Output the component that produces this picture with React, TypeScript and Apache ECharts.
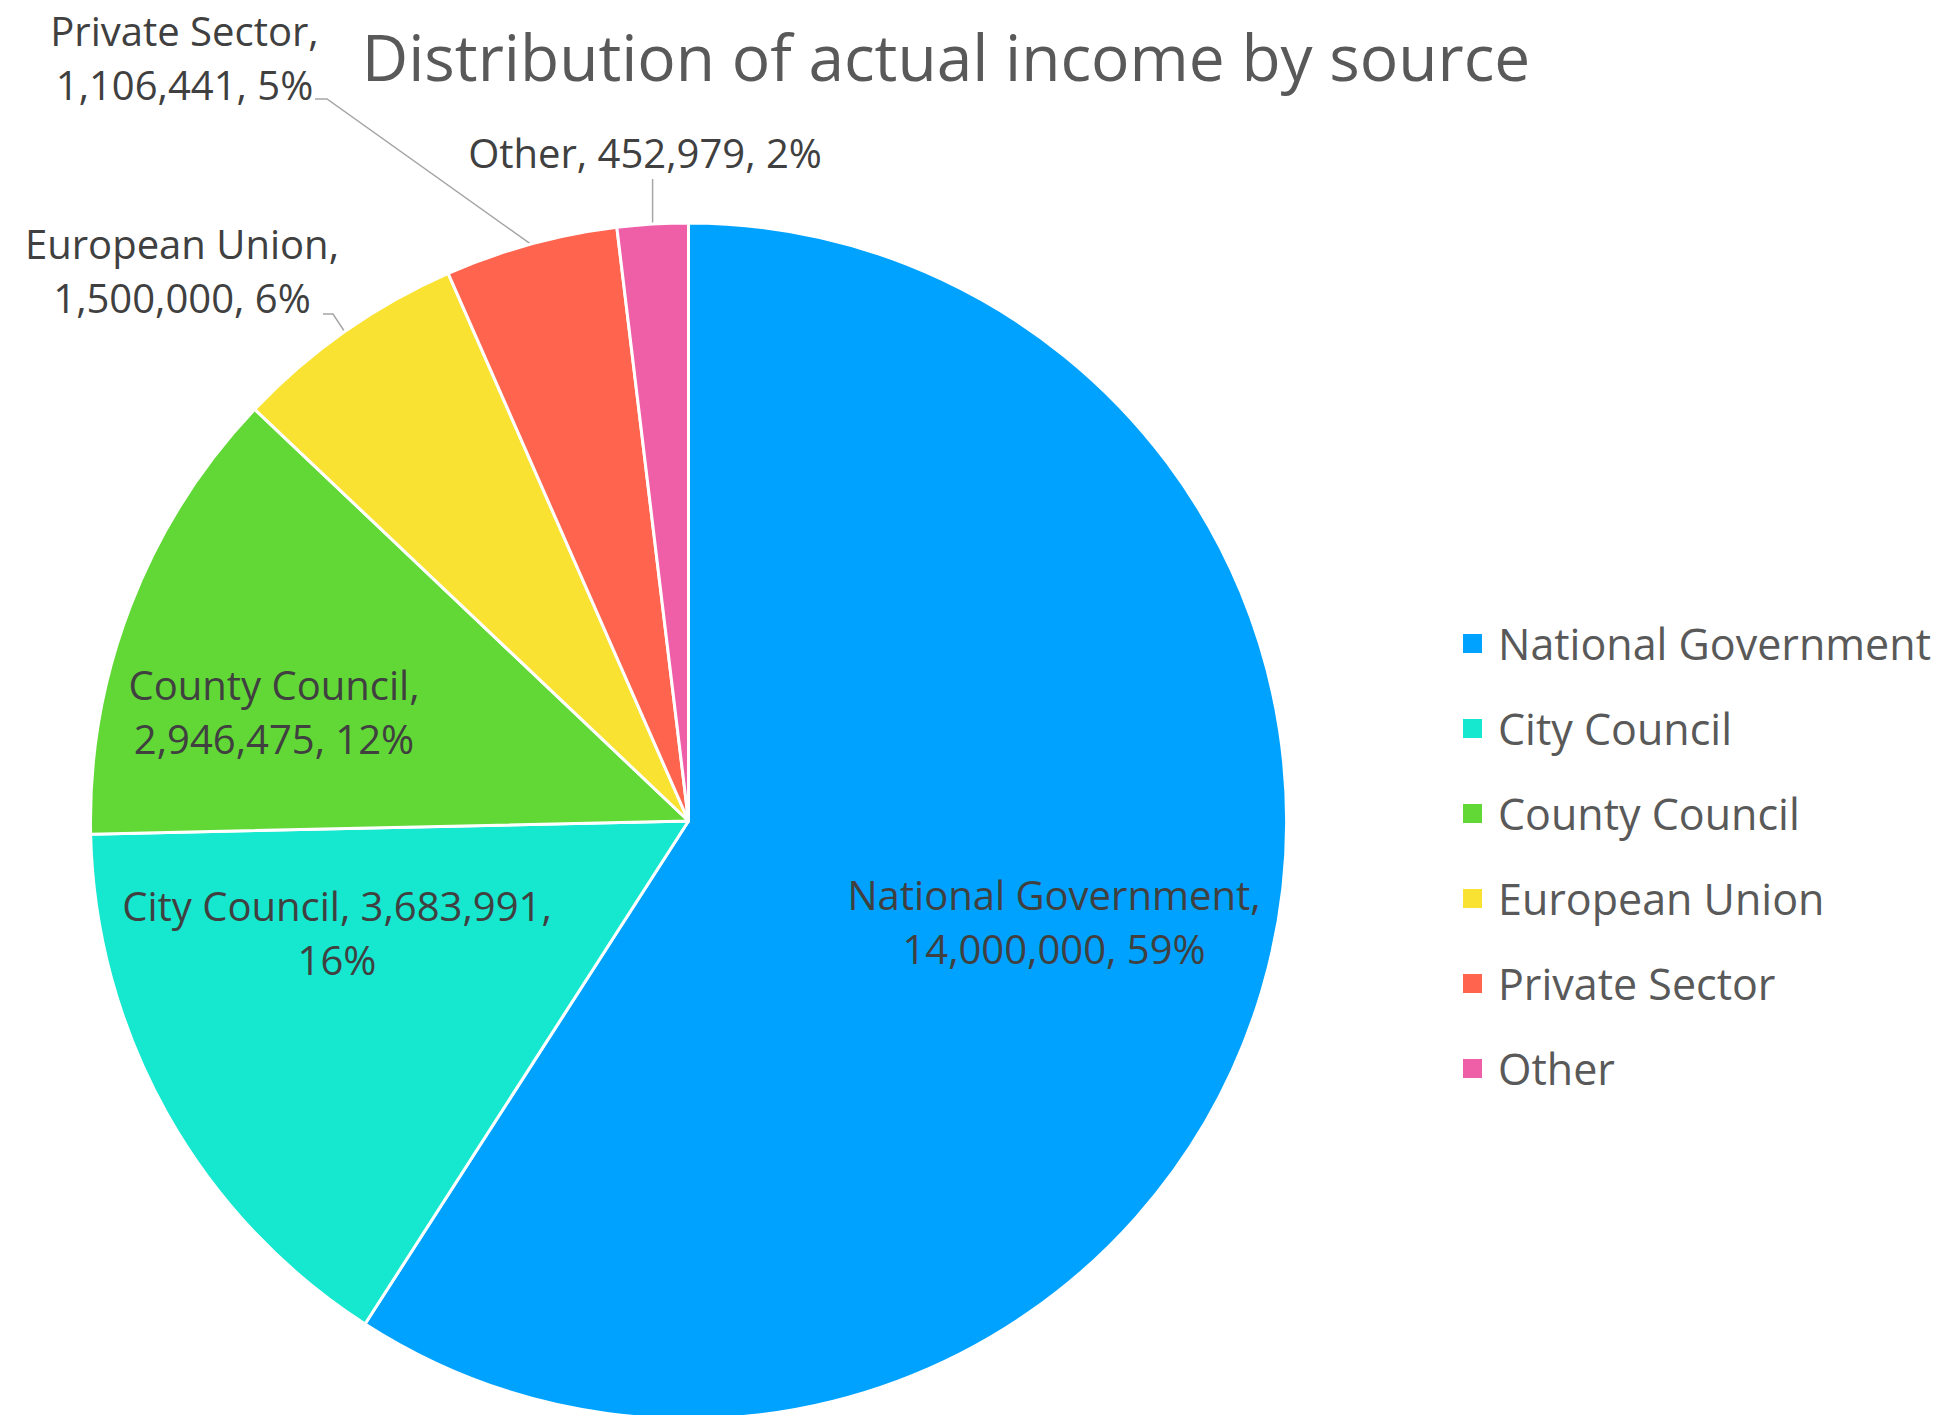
import React, { useEffect, useRef } from 'react';
import * as echarts from 'echarts';

const TITLE = 'Distribution of actual income by source';
const CATEGORIES = [
  'National Government',
  'City Council',
  'County Council',
  'European Union',
  'Private Sector',
  'Other',
];
const VALUES = [14000000, 3683991, 2946475, 1500000, 1106441, 452979];
const COLORS = ['#00A2FF', '#16E7CF', '#61D836', '#FAE232', '#FF644E', '#EF5FA7'];
// where each data label wraps onto a second line
const LABEL_BREAK = ['name', 'value', 'name', 'name', 'name', 'none'];

const FONT = "'Open Sans', 'Noto Sans', sans-serif";
const CENTER = [688.5, 821];
const RADIUS = 598;
// label centre, relative to the pie centre
const LABEL_OFFSET = [
  [365.5, 100],
  [-351.5, 111],
  [-414.5, -110],
  [-506.5, -551],
  [-504, -764],
  [-43.5, -669],
];
// leader bend / end points relative to the label centre
const LEADER: any[] = [
  null,
  null,
  null,
  [[151, 44], [141, 44]],
  [[142.5, 42], [130.5, 42]],
  'vertical',
];

const addCommas = (v: number) => String(v).replace(/\B(?=(\d{3})+(?!\d))/g, ',');

export default function App() {
  const ref = useRef<HTMLDivElement>(null);

  useEffect(() => {
    if (!ref.current) return;
    const chart = echarts.init(ref.current, undefined, { renderer: 'svg' });
    const option: any = {
      animation: false,
      backgroundColor: '#ffffff',
      color: COLORS,
      graphic: [
        {
          type: 'text',
          x: 946,
          y: 56,
          style: {
            text: TITLE,
            fill: '#595959',
            fontSize: 64,
            fontFamily: FONT,
            align: 'center',
            verticalAlign: 'middle',
          },
        },
      ],
      legend: {
        orient: 'vertical',
        left: 1461,
        top: 622,
        padding: 0,
        icon: 'rect',
        itemWidth: 21,
        itemHeight: 21,
        itemGap: 42,
        selectedMode: false,
        data: CATEGORIES,
        textStyle: {
          fontFamily: FONT,
          fontSize: 43,
          lineHeight: 43,
          color: '#595959',
          padding: [0, 0, 0, 10],
        },
      },
      series: [
        {
          type: 'pie',
          center: CENTER,
          radius: RADIUS,
          startAngle: 90,
          clockwise: true,
          avoidLabelOverlap: false,
          itemStyle: { borderColor: '#ffffff', borderWidth: 3 },
          label: {
            show: true,
            fontFamily: FONT,
            fontSize: 40,
            lineHeight: 54,
            color: '#404040',
            formatter: (p: any) => {
              const v = addCommas(p.value);
              const pc = Math.round(p.percent) + '%';
              const mode = LABEL_BREAK[p.dataIndex];
              if (mode === 'name') return `${p.name},\n${v}, ${pc}`;
              if (mode === 'value') return `${p.name}, ${v},\n${pc}`;
              return `${p.name}, ${v}, ${pc}`;
            },
          },
          labelLine: {
            show: true,
            length: 20,
            length2: 10,
            lineStyle: { color: '#A6A6A6', width: 1.5 },
          },
          labelLayout: (p: any) => {
            const i = p.dataIndex;
            const off = LABEL_OFFSET[i];
            const x = CENTER[0] + off[0];
            const y = CENTER[1] + off[1];
            const res: any = { x, y, align: 'center', verticalAlign: 'middle' };
            const pts = p.labelLinePoints;
            const lead = LEADER[i];
            if (pts && lead) {
              const start = pts[0];
              if (lead === 'vertical') {
                const yEnd = y + 27;
                res.labelLinePoints = [
                  start,
                  [start[0], (start[1] + yEnd) / 2],
                  [start[0], yEnd],
                ];
              } else {
                res.labelLinePoints = [
                  start,
                  [x + lead[0][0], y + lead[0][1]],
                  [x + lead[1][0], y + lead[1][1]],
                ];
              }
            }
            return res;
          },
          data: CATEGORIES.map((name, i) => ({
            name,
            value: VALUES[i],
            label: { position: i < 3 ? 'inside' : 'outside' },
            labelLine: { show: i >= 3 },
          })),
        },
      ],
    };
    chart.setOption(option);
    return () => chart.dispose();
  }, []);

  return (
    <div
      ref={ref}
      style={{ position: 'fixed', left: 0, top: 0, width: 1942, height: 1415, background: '#fff' }}
    />
  );
}
